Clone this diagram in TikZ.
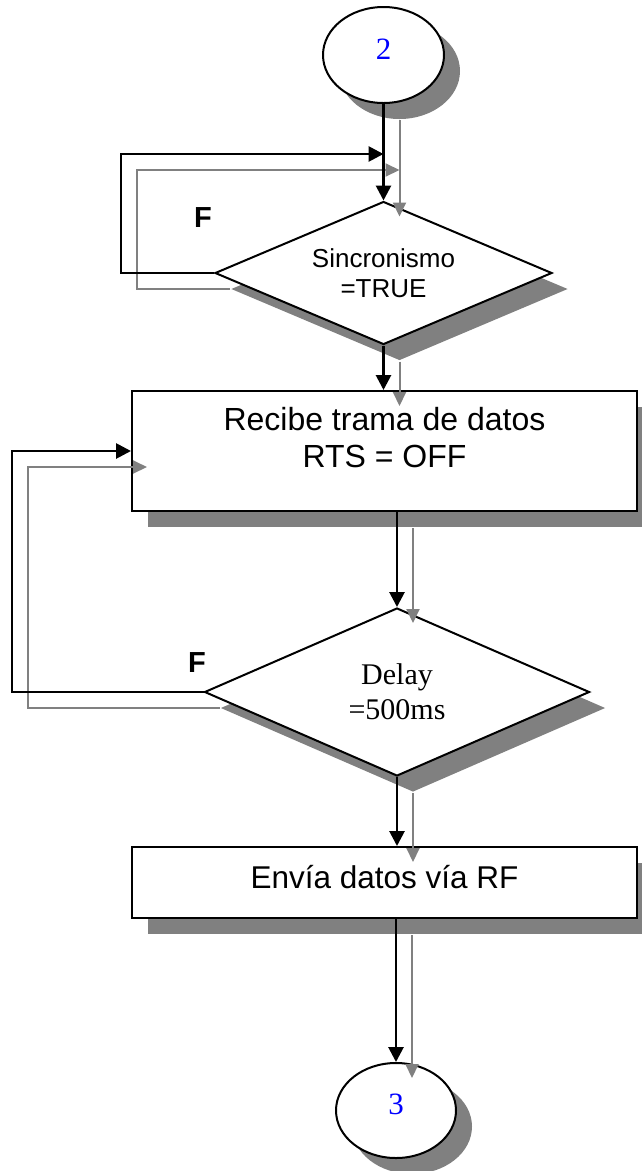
\documentclass[tikz,border=0pt]{standalone}
\usepackage{fontspec}
\setmainfont{Liberation Sans}
\newfontfamily\timesfont{Liberation Serif}
\usetikzlibrary{shapes.geometric, arrows.meta, shadows}
\definecolor{numblue}{RGB}{0, 0, 255}
\definecolor{sombragris}{RGB}{128, 128, 128}

\tikzset{
  sombranodo/.style={drop shadow={shadow xshift=16pt, shadow yshift=-16pt, opacity=1, fill=sombragris}},
  proceso/.style={draw, line width=2pt, fill=white, rectangle, inner sep=0pt, sombranodo},
  decision/.style={draw, line width=2pt, fill=white, diamond, inner sep=0pt, align=center, sombranodo},
  conector/.style={draw, line width=2pt, fill=white, ellipse, inner sep=0pt, text depth=12pt,
    font=\timesfont\fontsize{31}{31}\selectfont, text=numblue, sombranodo},
  linea/.style={black, line width=2.8pt, -{Triangle[length=15pt, width=15pt]}},
  sombra/.style={sombragris, line width=2pt, -{Triangle[length=14pt, width=13pt]},
    transform canvas={shift={(16pt,-16pt)}}},
  etiqueta/.style={font=\bfseries\fontsize{29}{29}\selectfont},
}

\begin{document}
\begin{tikzpicture}[x=1pt, y=-1pt]
  \useasboundingbox (0,0) rectangle (641,1171);

  % simbolos del diagrama
  \node[conector, minimum width=121pt, minimum height=96pt] (dos) at (383.5,55) {2};
  \node[decision, minimum width=337pt, minimum height=143pt, shape aspect=2.36,
        font=\fontsize{26}{30}\selectfont] (sincro) at (383.5,273) {Sincronismo\\=TRUE};
  \node[proceso, minimum width=505pt, minimum height=120pt] (recibe) at (384.5,451) {};
  \node[font=\fontsize{32}{37}\selectfont, align=center] (recibetxt) at (384.5,438)
    {Recibe trama de datos\\RTS = OFF};
  \node[decision, minimum width=385pt, minimum height=168pt, shape aspect=2.29,
        font=\timesfont\fontsize{30}{35}\selectfont] (delay) at (397,692) {Delay\\=500ms};
  \node[proceso, minimum width=505pt, minimum height=71pt, text depth=12pt,
        font=\fontsize{31.5}{31.5}\selectfont] (envia) at (384.5,882.5) {Envía datos vía RF};
  \node[conector, minimum width=120pt, minimum height=95pt] (tres) at (396,1110.5) {3};

  \node[etiqueta] (f1) at (203,218) {F};
  \node[etiqueta] (f2) at (197,662.5) {F};

  \coordinate (ret1) at (121,154);
  \coordinate (ent1) at (383.5,154);
  \coordinate (ret2) at (12,451);

  % flechas: primero la sombra gris, luego la linea negra
  \foreach \estilo in {sombra, linea} {
    \draw[\estilo] (dos.south) -- (sincro.north);
    \draw[\estilo] (sincro.west) -| (ret1) -- (ent1);
    \draw[\estilo] (sincro.south) -- (sincro.south |- recibe.north);
    \draw[\estilo] (delay.north |- recibe.south) -- (delay.north);
    \draw[\estilo] (delay.west) -| (ret2) -- (recibe.west);
    \draw[\estilo] (delay.south) -- (delay.south |- envia.north);
    \draw[\estilo] (tres.north |- envia.south) -- (tres.north);
  }
\end{tikzpicture}
\end{document}
